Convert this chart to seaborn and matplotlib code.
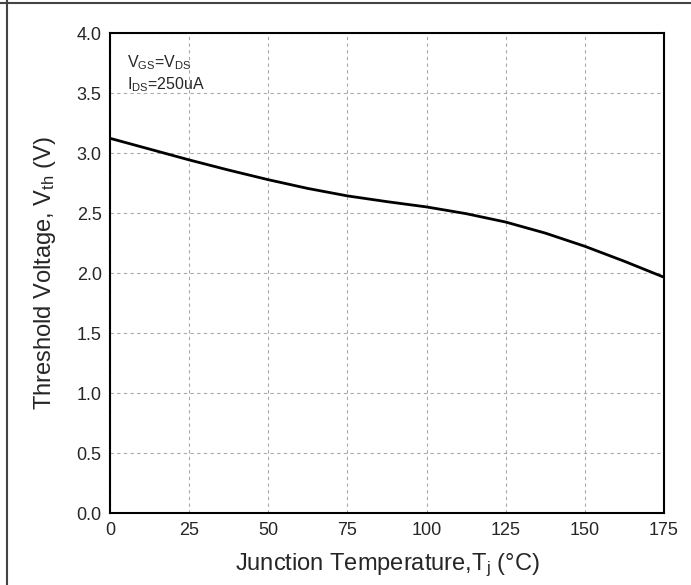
import matplotlib
matplotlib.use("Agg")
import matplotlib.pyplot as plt
from matplotlib.lines import Line2D
import seaborn as sns
import pandas as pd

# Threshold voltage vs junction temperature
temperature = [0, 12.5, 25, 37.5, 50, 62.5, 75, 87.5, 100, 112.5, 125, 137.5, 150, 162.5, 175]
vth = [3.125, 3.035, 2.945, 2.86, 2.78, 2.707, 2.645, 2.597, 2.553, 2.497, 2.427, 2.335, 2.225, 2.10, 1.967]

x_ticks = [0, 25, 50, 75, 100, 125, 150, 175]
y_ticks = [0.0, 0.5, 1.0, 1.5, 2.0, 2.5, 3.0, 3.5, 4.0]

sns.set_style("white")
plt.rcParams["font.family"] = ["Liberation Sans", "DejaVu Sans"]
plt.rcParams["mathtext.default"] = "regular"

df = pd.DataFrame({"T": temperature, "V": vth})

fig = plt.figure(figsize=(6.91, 5.85), dpi=100)
ax = fig.add_axes([110 / 691, 1 - 513.3 / 585, (664 - 110) / 691, (513.3 - 33.3) / 585])

sns.lineplot(data=df, x="T", y="V", ax=ax, color="black", linewidth=2.0)

ax.set_xlim(0, 175)
ax.set_ylim(0, 4.0)
ax.set_xticks(x_ticks)
ax.set_yticks(y_ticks)
ax.set_xticklabels([str(t) for t in x_ticks])
ax.set_yticklabels([f"{v:.1f}" for v in y_ticks])

ax.grid(True, color="#aaaaaa", linestyle=(0, (3, 3)), linewidth=0.8)
for s in ax.spines.values():
    s.set_color("black")
    s.set_linewidth(1.5)

ax.tick_params(axis="x", direction="in", length=4, width=1.2, labelsize=13, pad=6)
ax.tick_params(axis="y", direction="out", length=4, width=1.2, labelsize=13, pad=2)

ax.set_xlabel("Junction Temperature,T$_j$ (°C)", fontsize=17, labelpad=9)
ax.set_ylabel("Threshold Voltage, V$_{th}$ (V)", fontsize=17, labelpad=13)

ax.text(0.031, 0.938, "V$_{GS}$=V$_{DS}$", transform=ax.transAxes, fontsize=11.5, va="center")
ax.text(0.031, 0.892, "I$_{DS}$=250uA", transform=ax.transAxes, fontsize=11.5, va="center")

# Page frame along the top and left edges
fig.add_artist(Line2D([0, 1], [1 - 3 / 585, 1 - 3 / 585], transform=fig.transFigure, color="#444444", linewidth=1.5))
fig.add_artist(Line2D([7 / 691, 7 / 691], [0, 1], transform=fig.transFigure, color="#444444", linewidth=1.5))

fig.savefig("out.png", dpi=100)
